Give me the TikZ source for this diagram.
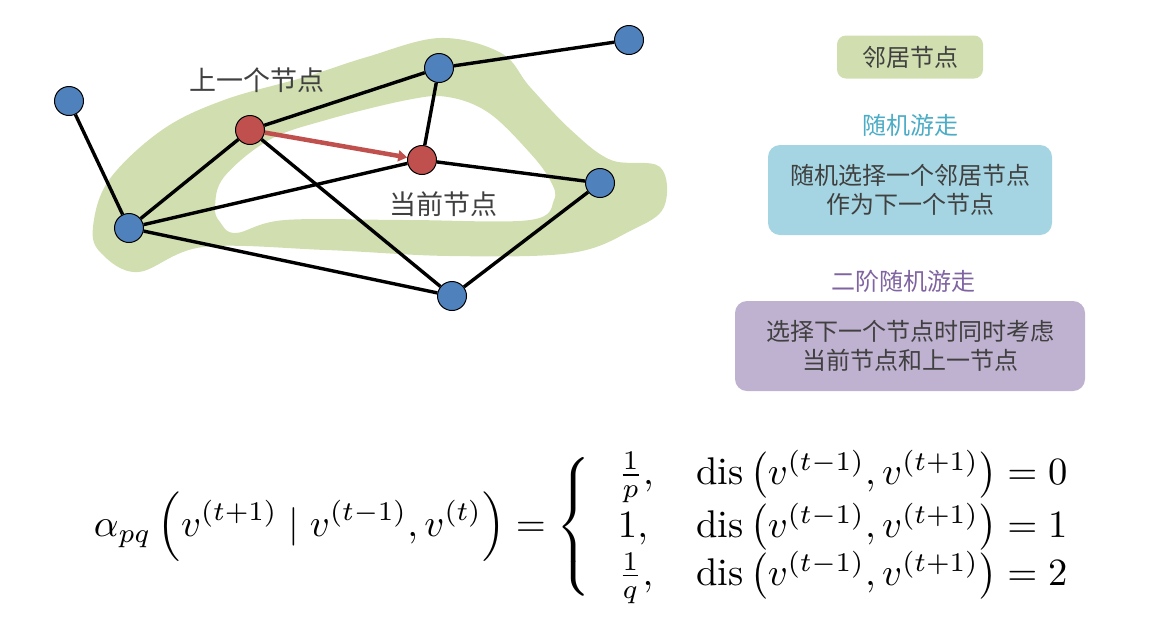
\documentclass[tikz,border=0pt]{standalone}
\usepackage{amsmath}
\usepackage{amssymb}
\usepackage{fontspec}
\newfontfamily\cjk{Noto Sans CJK SC}
\usetikzlibrary{arrows.meta}
\definecolor{bandgreen}{HTML}{D0DEB0}
\definecolor{nodeblue}{HTML}{4F81BD}
\definecolor{nodered}{HTML}{C0504D}
\definecolor{walkblue}{HTML}{4BACC6}
\definecolor{walkpurple}{HTML}{8064A2}
\definecolor{boxblue}{HTML}{A5D5E2}
\definecolor{boxpurple}{HTML}{BFB1D0}
\definecolor{textgray}{HTML}{404040}
\tikzset{
  vertex/.style={circle,draw=black,line width=1pt,minimum size=29pt,inner sep=0pt},
  bluevertex/.style={vertex,fill=nodeblue},
  redvertex/.style={vertex,fill=nodered},
  edge/.style={line width=3.4pt},
  graphtext/.style={text=textgray,font=\cjk\fontsize{27}{32}\selectfont},
  infobox/.style={rounded corners=12pt,align=center,text=textgray,font=\cjk\fontsize{24}{29}\selectfont},
  infotitle/.style={font=\cjk\fontsize{24}{29}\selectfont}
}

\begin{document}
\begin{tikzpicture}[x=1pt,y=-1pt]
\useasboundingbox (0,0) rectangle (1166,630);
\fill[bandgreen,even odd rule]
  plot[smooth cycle,tension=0.6] coordinates {(440,38) (501,53) (530,87) (571,130) (611,160) (660,167)
    (664,207) (632,230) (571,253) (450,256) (326,250) (203,247) (138,272) (101,253) (93,227)
    (109,180) (162,130) (224,100) (305,77) (367,57)}
  plot[smooth cycle,tension=0.6] coordinates {(215,207) (224,177) (269,140) (326,120) (407,100) (448,97)
    (489,113) (530,153) (550,180) (554,200) (530,220) (407,220) (285,220) (236,233) (220,222)};

\node[bluevertex] (a) at (69,101) {};
\node[bluevertex] (hub) at (129,228) {};
\node[redvertex] (prev) at (250,130) {};
\node[bluevertex] (top) at (439,68) {};
\node[bluevertex] (far) at (629,40) {};
\node[redvertex] (cur) at (422,160) {};
\node[bluevertex] (right) at (600,183) {};
\node[bluevertex] (bottom) at (452,296) {};

\draw[edge] (a) -- (hub);
\draw[edge] (hub) -- (prev);
\draw[edge] (prev) -- (top);
\draw[edge] (top) -- (far);
\draw[edge] (top) -- (cur);
\draw[edge] (hub) -- (cur);
\draw[edge] (prev) -- (bottom);
\draw[edge] (hub) -- (bottom);
\draw[edge] (cur) -- (right);
\draw[edge] (right) -- (bottom);
\draw[nodered,line width=4.5pt,-{Triangle[length=9pt,width=11pt]}] (prev) -- (cur);

\node[graphtext] (prevtext) at (257,80) {上一个节点};
\node[graphtext] (curtext) at (443,204) {当前节点};

\node[infobox,fill=bandgreen,minimum width=146,minimum height=43,rounded corners=9pt] (nbr) at (910,57) {邻居节点};
\node[infotitle,text=walkblue] (walktitle) at (910,125) {随机游走};
\node[infobox,fill=boxblue,minimum width=284,minimum height=90] (walk) at (910,190) {随机选择一个邻居节点\\作为下一个节点};
\node[infotitle,text=walkpurple] (biastitle) at (903,281) {二阶随机游走};
\node[infobox,fill=boxpurple,minimum width=350,minimum height=90] (bias) at (910,346) {选择下一个节点时同时考虑\\当前节点和上一节点};

\node (formula) at (583,527) {\resizebox{978pt}{!}{$\displaystyle
  \alpha_{pq}\left(v^{(t+1)}\mid v^{(t-1)},v^{(t)}\right)=
  \left\{\begin{array}{@{\hspace{7pt}}l@{\hspace{11pt}}l@{}}
    \frac{1}{p}, & \operatorname{dis}\left(v^{(t-1)},v^{(t+1)}\right)=0\\
    1, & \operatorname{dis}\left(v^{(t-1)},v^{(t+1)}\right)=1\\
    \frac{1}{q}, & \operatorname{dis}\left(v^{(t-1)},v^{(t+1)}\right)=2
  \end{array}\right.$}};
\end{tikzpicture}
\end{document}
